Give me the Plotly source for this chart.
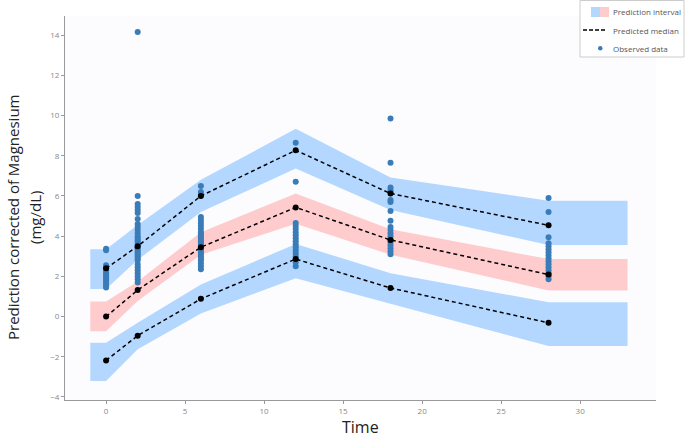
import plotly.graph_objects as go

# ---- data ----
times = [0, 2, 6, 12, 18, 28]
band_start, band_end = -1, 33

upper_hi = [3.35, 4.55, 6.8, 9.34, 6.92, 5.76]
upper_lo = [1.37, 2.82, 5.2, 7.36, 5.30, 3.56]
upper_med = [2.4, 3.5, 6.0, 8.27, 6.12, 4.54]

mid_hi = [0.75, 1.75, 4.2, 6.12, 4.34, 2.86]
mid_lo = [-0.73, 0.77, 3.07, 4.62, 3.07, 1.30]
mid_med = [0.0, 1.32, 3.45, 5.43, 3.81, 2.09]

lower_hi = [-1.30, -0.31, 1.6, 3.61, 2.16, 0.71]
lower_lo = [-3.2, -1.63, 0.15, 1.91, 0.64, -1.47]
lower_med = [-2.18, -0.95, 0.88, 2.86, 1.42, -0.31]

observed = {
    0: [3.37, 3.3, 2.55, 2.4, 2.3, 2.2, 2.1, 2.0, 1.9, 1.8, 1.7, 1.6, 1.5, 1.45],
    2: [14.15, 6.0, 5.6, 5.45, 5.3, 5.15, 4.85, 4.6, 4.45, 4.3, 4.15, 4.0, 3.9, 3.8,
        3.7, 3.6, 3.5, 3.4, 3.3, 3.2, 3.1, 3.0, 2.9, 2.8, 2.6, 2.45, 2.3, 2.15, 2.0,
        1.85, 1.7],
    6: [6.5, 6.2, 6.05, 4.95, 4.8, 4.65, 4.5, 4.35, 4.2, 4.1, 4.0, 3.9, 3.8, 3.7, 3.6,
        3.5, 3.4, 3.3, 3.2, 3.1, 3.0, 2.9, 2.8, 2.65, 2.5, 2.35],
    12: [8.65, 6.7, 4.65, 4.5, 4.35, 4.2, 4.05, 3.9, 3.75, 3.6, 3.45, 3.3, 3.15, 3.0,
         2.85, 2.7, 2.5],
    18: [9.85, 7.65, 6.42, 6.3, 6.2, 5.8, 5.7, 5.25, 4.77, 4.45, 4.3, 4.15, 4.0, 3.85,
         3.7, 3.55, 3.4, 3.25, 3.1],
    28: [5.9, 5.2, 3.95, 3.65, 3.5, 3.35, 3.2, 3.05, 2.9, 2.75, 2.6, 2.45, 2.3, 2.15,
         2.0, 1.85],
}

x_ticks = [0, 5, 10, 15, 20, 25, 30]
y_ticks = [-4, -2, 0, 2, 4, 6, 8, 10, 12, 14]

BLUE_BAND = "rgb(179,215,255)"
PINK_BAND = "rgb(255,204,206)"
OBS = "rgb(58,124,184)"

fig = go.Figure()

band_x = [band_start] + times + [band_end]


def ext(v):
    return [v[0]] + v + [v[-1]]


for hi, lo, col in [(upper_hi, upper_lo, BLUE_BAND), (mid_hi, mid_lo, PINK_BAND),
                    (lower_hi, lower_lo, BLUE_BAND)]:
    fig.add_trace(go.Scatter(
        x=band_x + band_x[::-1], y=ext(hi) + ext(lo)[::-1],
        fill="toself", fillcolor=col, line=dict(width=0), mode="lines",
        hoverinfo="skip", showlegend=False))

ox, oy = [], []
for t in times:
    for v in observed[t]:
        ox.append(t)
        oy.append(v)
fig.add_trace(go.Scatter(x=ox, y=oy, mode="markers",
                         marker=dict(color=OBS, size=6), showlegend=False))

for med in [upper_med, mid_med, lower_med]:
    fig.add_trace(go.Scatter(x=times, y=med, mode="lines+markers",
                             line=dict(color="black", width=1.5, dash="4px,3px"),
                             marker=dict(color="black", size=6), showlegend=False))

# ---- layout ----
L, R, T, B = 65, 29, 16, 37
W, H = 685, 437
pw, ph = W - L - R, H - T - B


def px(x):
    return (x - L) / pw


def py(y):
    return (H - B - y) / ph


axis_common = dict(showline=True, linecolor="#9a9a9a", linewidth=1, ticks="outside",
                   ticklen=3, tickcolor="#9a9a9a", showgrid=False, zeroline=False,
                   tickfont=dict(size=8, color="#888888", family="Open Sans"))

fig.update_layout(
    width=W, height=H, margin=dict(l=L, r=R, t=T, b=B),
    paper_bgcolor="white", plot_bgcolor="rgb(252,252,255)",
    xaxis=dict(range=[-2.6, 34.8], tickvals=x_ticks, **axis_common),
    yaxis=dict(range=[-4.15, 14.95], tickvals=y_ticks, **axis_common),
    showlegend=False,
)

annotations = [
    dict(text="Time", x=0.5, y=py(427), xref="paper", yref="paper", showarrow=False,
         font=dict(size=16, color="#222222", family="Open Sans"),
         xanchor="center", yanchor="middle"),
    dict(text="Prediction corrected of Magnesium", x=px(13), y=py(218), xref="paper",
         yref="paper", showarrow=False, textangle=-90,
         font=dict(size=15, color="#222222", family="Open Sans"),
         xanchor="center", yanchor="middle"),
    dict(text="(mg/dL)", x=px(35), y=py(218), xref="paper", yref="paper",
         showarrow=False, textangle=-90,
         font=dict(size=15, color="#222222", family="Open Sans"),
         xanchor="center", yanchor="middle"),
]

leg_font = dict(size=8, color="#555555", family="Open Sans")
for label, yy in [("Prediction interval", 12), ("Predicted median", 30),
                  ("Observed data", 48)]:
    annotations.append(dict(text=label, x=px(611), y=py(yy), xref="paper", yref="paper",
                            showarrow=False, xanchor="left", yanchor="middle",
                            font=leg_font))

shapes = [
    dict(type="rect", xref="paper", yref="paper", x0=px(580), x1=px(684), y0=py(0.5),
         y1=py(57), line=dict(color="#cccccc", width=1), fillcolor="white",
         layer="above"),
    dict(type="rect", xref="paper", yref="paper", x0=px(591), x1=px(600), y0=py(7),
         y1=py(17), line=dict(width=0), fillcolor=BLUE_BAND, layer="above"),
    dict(type="rect", xref="paper", yref="paper", x0=px(600), x1=px(609), y0=py(7),
         y1=py(17), line=dict(width=0), fillcolor=PINK_BAND, layer="above"),
    dict(type="line", xref="paper", yref="paper", x0=px(583), x1=px(606), y0=py(30),
         y1=py(30), line=dict(color="black", width=1.5, dash="4px,2px"), layer="above"),
    dict(type="circle", xref="paper", yref="paper", x0=px(598), x1=px(602.5), y0=py(46),
         y1=py(50.5), line=dict(width=0), fillcolor=OBS, layer="above"),
]

fig.update_layout(annotations=annotations, shapes=shapes)

fig.write_html("out.html", config={"displayModeBar": False},
               post_script="document.body.style.margin='0px';"
                           "document.body.style.padding='0px';")
